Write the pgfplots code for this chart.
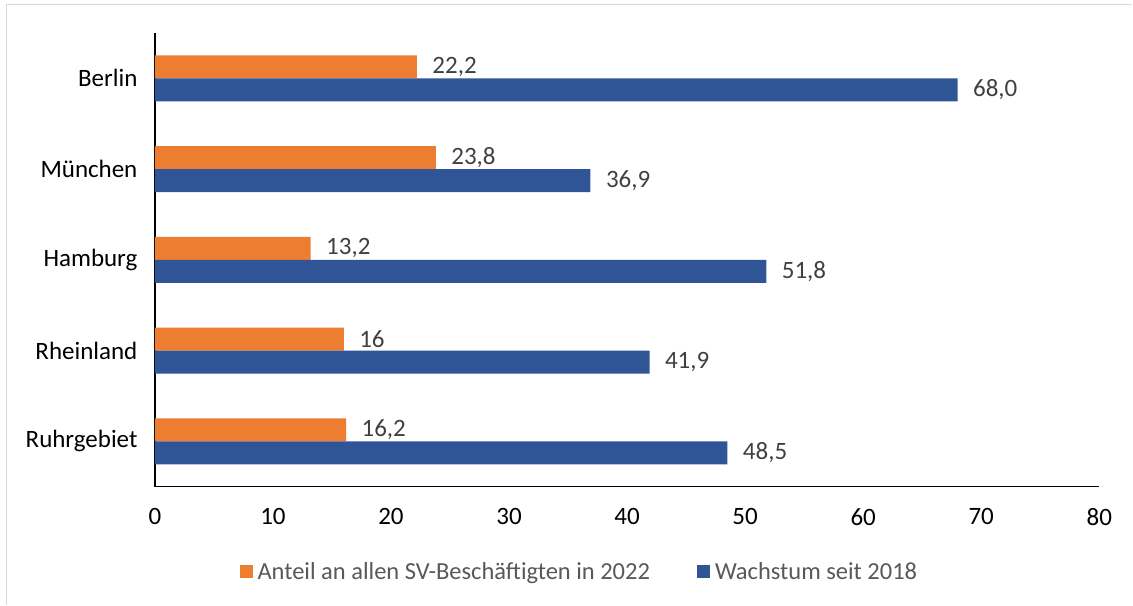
\documentclass[border=0pt]{standalone}
\usepackage{pgfplots}
\pgfplotsset{compat=1.18}
\usepackage{fontspec}
\setmainfont{Carlito}
\definecolor{cOrange}{HTML}{ED7D31}
\definecolor{cBlue}{HTML}{2F5597}
\definecolor{cGray}{HTML}{404040}
\definecolor{cLeg}{HTML}{595959}
\definecolor{cFrame}{HTML}{D9D9D9}
\begin{document}
\begin{tikzpicture}
\path (0,0) rectangle (1133bp,605bp);
\draw[cFrame, line width=1.5bp] (6.5bp,0) -- (6.5bp,600.5bp) -- (1133bp,600.5bp);
\begin{axis}[
  at={(155bp,118bp)}, anchor=south west,
  scale only axis, width=945bp, height=454bp,
  xbar, xmin=0, xmax=80, ymin=-0.5, ymax=4.5,
  axis x line*=bottom, axis y line*=left,
  axis line style={black, line width=1.3bp},
  xtick={0,10,...,80}, major tick length=0pt,
  ytick={0,1,2,3,4},
  yticklabels={Ruhrgebiet,Rheinland,Hamburg,München,Berlin},
  /pgf/number format/assume math mode=true,
  tick label style={font=\fontsize{25bp}{29bp}\selectfont, text=black},
  xticklabel style={yshift=-18bp},
  yticklabel style={xshift=-14bp},
  bar width=23bp,
  nodes near coords, point meta=explicit symbolic,
  nodes near coords style={anchor=west, xshift=12bp, text=cGray, font=\fontsize{25bp}{29bp}\selectfont},
  legend columns=2,
  legend style={at={(axis description cs:0.451,-0.187)}, anchor=center, draw=none,
    font=\fontsize{24.5bp}{28bp}\selectfont, text=cLeg,
    nodes={inner sep=5bp},
    /tikz/every even column/.append style={column sep=42bp}},
  legend image code/.code={\path[#1,draw=none] (0bp,-6.5bp) rectangle (13bp,6.5bp);},
]
\addplot[fill=cOrange, draw=none, bar shift=11.5bp] coordinates {
  (16.2,0) [16,2]
  (16,1) [16]
  (13.2,2) [13,2]
  (23.8,3) [23,8]
  (22.2,4) [22,2]
};
\addplot[fill=cBlue, draw=none, bar shift=-11.5bp] coordinates {
  (48.5,0) [48,5]
  (41.9,1) [41,9]
  (51.8,2) [51,8]
  (36.9,3) [36,9]
  (68.0,4) [68,0]
};
\legend{Anteil an allen SV-Beschäftigten in 2022, Wachstum seit 2018}
\end{axis}
\end{tikzpicture}
\end{document}
